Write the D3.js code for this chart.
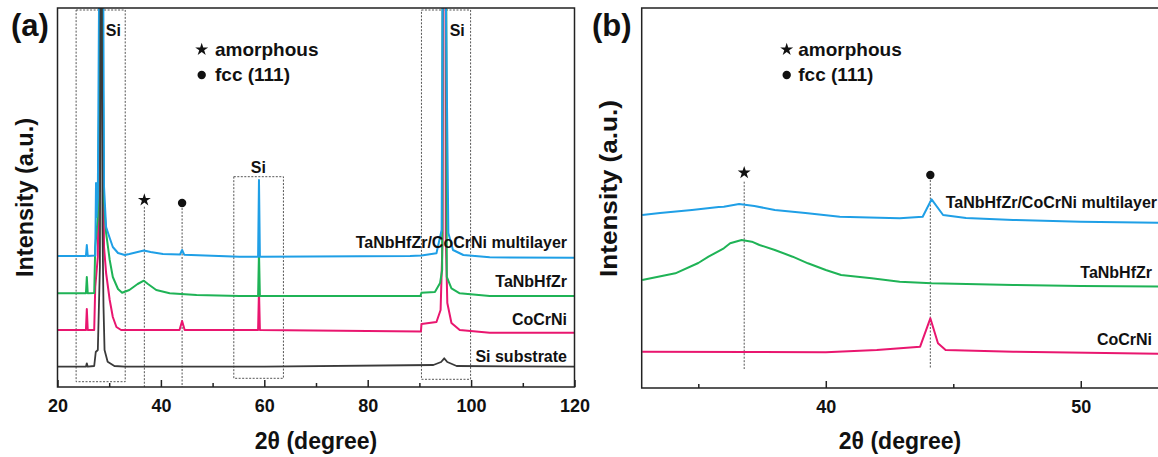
<!DOCTYPE html>
<html>
<head>
<meta charset="utf-8">
<script src="https://cdn.jsdelivr.net/npm/d3@7.9.0/dist/d3.min.js"></script>
<style>
  body { margin: 0; background: #fff; }
  svg { display: block; font-family: "Liberation Sans", Arial, sans-serif; font-weight: bold; }
</style>
</head>
<body>
<svg id="chart" width="1158" height="457"></svg>
<script>
// ---- data: [2theta (deg), intensity (a.u.)] ----
// panel (a), full scan
const multilayerA = [[20,131],[25.5,131],[25.67,142],[25.85,131],[27.3,131.5],[27.45,204],[27.55,170],[27.8,190],
  [28.05,400],[28.45,1500],[28.85,400],[29.0,200],[29.4,160],[30.1,149],[30.7,140],[31.7,134],[33,132],
  [33.9,133],[35.5,135],[36.7,136.5],[38,135],[40.4,133],[43.7,132.5],[44.1,137],[44.5,132.3],[55.2,130.3],
  [58.8,130.3],[58.97,207],[59.15,130.3],[88.2,131],[90.4,131.5],[93.3,133.7],[94.3,157],[94.5,400],[94.8,1500],
  [95.1,400],[95.6,154],[96.5,137],[98.5,132],[103.6,129.7],[120,129.3]];
const tanbhfzrA = [[20,93.7],[25.5,93.7],[25.67,110],[25.85,93.7],[27.1,94],[27.3,140],[27.8,170],[28.15,330],
  [28.45,1500],[28.75,330],[29.0,185],[29.4,154],[30.1,127],[30.7,110],[31.7,98],[32.5,94.3],[33.9,97],
  [35.5,103],[36.7,106.3],[37.5,103],[39.1,97],[41.7,93.7],[46.9,92],[55.2,91],[58.8,91],[58.97,135],
  [59.15,91],[90.2,91],[90.4,94.3],[93,95],[94,104],[94.4,117],[94.8,1500],[95.3,110],[96.2,98.7],
  [97.8,93.7],[103.6,91],[120,91]];
const cocrniA = [[20,57],[25.5,57],[25.67,78],[25.85,57],[27.1,57],[27.3,100],[27.8,130],[28.2,300],
  [28.45,1500],[28.7,300],[29.0,140],[29.4,114],[30.1,87],[30.7,70],[31.4,60],[32.3,57],[40,57],[43.6,57],
  [44.1,66],[44.6,57],[58.8,57],[58.97,97],[59.15,57],[90.3,55.5],[90.4,63],[93.3,65],[94.1,77],[94.5,150],
  [94.8,1500],[95.1,150],[95.4,84],[96.2,64],[97.8,57],[103.6,54.3],[120,54.3]];
const siSubstrateA = [[20,20.3],[25.5,20.3],[25.67,23.7],[25.85,20.3],[27.1,21],[27.4,35],[27.8,37],
  [28.2,120],[28.38,500],[28.45,1500],[28.52,500],[28.7,160],[28.9,80],[29.1,37],[29.7,25.3],[31,21],
  [33,20.3],[60,20.3],[92.7,22],[94.2,25],[94.8,28.7],[95.4,25],[97.2,21],[120,20.3]];

// panel (b), zoom 33-53 deg
const multilayerB = [[32.8,173],[33.5,175],[34.75,178],[35.8,181],[36.0,181.3],[36.6,184],[37.2,182],[38.0,178],
  [39.2,175],[40.55,171.3],[41.7,170.5],[42.9,169.7],[43.8,171.3],[44.15,188.7],[44.6,173],[45.5,170],
  [47.35,168],[50,166.3],[53.5,165]];
const tanbhfzrB = [[32.8,108],[34.1,114.7],[35.0,125],[35.4,131.3],[36.0,139.7],[36.25,144.7],[36.7,148],
  [37.1,146.3],[37.4,143],[38.0,138],[38.7,131.3],[39.3,124.7],[40.0,118],[40.6,113],[41.8,109.7],
  [42.9,106.3],[44.15,104.7],[47.35,103],[50,102],[53.5,101.3]];
const cocrniB = [[32.8,36.3],[36.9,36],[40,35.8],[42,38],[43.7,41.3],[44.1,69.7],[44.4,44.7],[44.7,38],
  [47.35,36.3],[53.5,34]];

const seriesNames = ['TaNbHfZr/CoCrNi multilayer', 'TaNbHfZr', 'CoCrNi', 'Si substrate'];
const seriesColors = ['#1f9fe6', '#1fb356', '#e9166f', '#3a3a3a'];
const ticksMajorA = [20, 40, 60, 80, 100, 120];
const ticksMinorA = [30, 50, 70, 90, 110];
const ticksMajorB = [40, 50];
const ticksMinorB = [35, 45];
const siRegions = [[23.6, 33.1], [54.1, 63.7], [90.4, 99.9]];
const amorphousPos = 36.8;
const fccPos = 44.1;

// ---- layout ----
const svg = d3.select('#chart');
const A = { left: 57.5, right: 574.5, top: 8, bottom: 387 };
const B = { left: 641.7, right: 1170, top: 8, bottom: 388 };

const xA = d3.scaleLinear().domain([20, 120]).range([A.left, A.right]);
const yA = d3.scaleLinear().domain([0, 379]).range([A.bottom, A.top]);
const xB = d3.scaleLinear().domain([32.78, 53.5]).range([B.left, B.right]);
const yB = d3.scaleLinear().domain([0, 380]).range([B.bottom, B.top]);

const defs = svg.append('defs');
defs.append('clipPath').attr('id', 'clipA').append('rect')
  .attr('x', A.left).attr('y', A.top).attr('width', A.right - A.left).attr('height', A.bottom - A.top);
defs.append('clipPath').attr('id', 'clipB').append('rect')
  .attr('x', B.left).attr('y', B.top).attr('width', B.right - B.left).attr('height', B.bottom - B.top);

function drawAxis(x, P, major, minor) {
  svg.append('g').attr('transform', `translate(0,${P.bottom})`)
    .call(d3.axisBottom(x).tickValues(major).tickSizeInner(-7).tickSizeOuter(0).tickPadding(12).tickFormat(d3.format('d')))
    .call(g => g.select('.domain').remove())
    .call(g => g.selectAll('line').attr('stroke', '#222').attr('stroke-width', 1.5))
    .call(g => g.selectAll('text').attr('font-size', 18).attr('font-family', null).attr('fill', '#111'));
  svg.append('g').attr('transform', `translate(0,${P.bottom})`)
    .call(d3.axisBottom(x).tickValues(minor).tickSizeInner(-4).tickSizeOuter(0).tickFormat(''))
    .call(g => g.select('.domain').remove())
    .call(g => g.selectAll('line').attr('stroke', '#222').attr('stroke-width', 1.5));
}

function star(cx, cy) {
  svg.append('path').attr('d', d3.symbol(d3.symbolStar, 52)())
    .attr('transform', `translate(${cx},${cy})`).attr('fill', '#111');
}
function dot(cx, cy) {
  svg.append('circle').attr('cx', cx).attr('cy', cy).attr('r', 4.2).attr('fill', '#111');
}

// ---- panel (a) ----
// dashed Si boxes
const boxTops = [10, 176.7, 10];
const boxBottoms = [381.7, 378.3, 379.3];
siRegions.forEach(([a, b], i) => {
  svg.append('rect')
    .attr('x', xA(a)).attr('y', boxTops[i]).attr('width', xA(b) - xA(a)).attr('height', boxBottoms[i] - boxTops[i])
    .attr('fill', 'none').attr('stroke', '#555').attr('stroke-width', 1).attr('stroke-dasharray', '2,1.5');
});
[[113.3, 36], [258.3, 172.7], [457.2, 36]].forEach(([tx, ty]) => {
  svg.append('text').attr('x', tx).attr('y', ty).attr('text-anchor', 'middle')
    .attr('font-size', 16).attr('fill', '#111').text('Si');
});

// marker guide lines
[[amorphousPos, 206.7], [fccPos, 208]].forEach(([p, top]) => {
  svg.append('line').attr('x1', xA(p)).attr('x2', xA(p)).attr('y1', top).attr('y2', A.bottom)
    .attr('stroke', '#555').attr('stroke-width', 1).attr('stroke-dasharray', '2,1.5');
});
star(xA(amorphousPos), 200);
dot(xA(fccPos), 203);

const lineA = d3.line().x(d => xA(d[0])).y(d => yA(d[1]));
const gA = svg.append('g').attr('clip-path', 'url(#clipA)');
[[cocrniA, 2], [tanbhfzrA, 1], [multilayerA, 0], [siSubstrateA, 3]].forEach(([data, i]) => {
  gA.append('path').datum(data).attr('d', lineA)
    .attr('fill', 'none').attr('stroke', seriesColors[i]).attr('stroke-width', i === 3 ? 1.8 : 2)
    .attr('stroke-linejoin', 'round');
});

const labelYA = [248.3, 286.7, 325, 361.7];
seriesNames.forEach((name, i) => {
  svg.append('text').attr('x', 567).attr('y', labelYA[i]).attr('text-anchor', 'end')
    .attr('font-size', 16).attr('fill', '#111').text(name);
});

svg.append('rect').attr('x', A.left).attr('y', A.top).attr('width', A.right - A.left).attr('height', A.bottom - A.top)
  .attr('fill', 'none').attr('stroke', '#222').attr('stroke-width', 1.5);
drawAxis(xA, A, ticksMajorA, ticksMinorA);

// legend (a)
star(201.7, 49.5);
svg.append('text').attr('x', 215).attr('y', 56).attr('font-size', 19).attr('fill', '#111').text('amorphous');
dot(201.7, 75);
svg.append('text').attr('x', 215).attr('y', 81).attr('font-size', 19).attr('fill', '#111').text('fcc (111)');

svg.append('text').attr('x', 11).attr('y', 36).attr('font-size', 31).attr('fill', '#111').text('(a)');
svg.append('text').attr('transform', 'rotate(-90)').attr('x', -197.5).attr('y', 33)
  .attr('text-anchor', 'middle').attr('font-size', 23).attr('fill', '#111')
  .attr('textLength', 159).attr('lengthAdjust', 'spacingAndGlyphs').text('Intensity (a.u.)');
svg.append('text').attr('x', (A.left + A.right) / 2).attr('y', 449).attr('text-anchor', 'middle')
  .attr('font-size', 23).attr('fill', '#111').text('2θ (degree)');

// ---- panel (b) ----
[[amorphousPos, 181.7], [fccPos, 180]].forEach(([p, top]) => {
  svg.append('line').attr('x1', xB(p)).attr('x2', xB(p)).attr('y1', top).attr('y2', 369)
    .attr('stroke', '#555').attr('stroke-width', 1).attr('stroke-dasharray', '2,1.5');
});
star(xB(amorphousPos), 172.7);
dot(xB(fccPos), 175);

const lineB = d3.line().x(d => xB(d[0])).y(d => yB(d[1]));
const gB = svg.append('g').attr('clip-path', 'url(#clipB)');
[[cocrniB, 2], [tanbhfzrB, 1], [multilayerB, 0]].forEach(([data, i]) => {
  gB.append('path').datum(data).attr('d', lineB)
    .attr('fill', 'none').attr('stroke', seriesColors[i]).attr('stroke-width', 2).attr('stroke-linejoin', 'round');
});

[[1157, 207.5], [1152, 278.3], [1152, 345]].forEach(([tx, ty], i) => {
  svg.append('text').attr('x', tx).attr('y', ty).attr('text-anchor', 'end')
    .attr('font-size', 16).attr('fill', '#111').text(seriesNames[i]);
});

svg.append('path')
  .attr('d', `M${B.right},${B.top}H${B.left}V${B.bottom}H${B.right}`)
  .attr('fill', 'none').attr('stroke', '#222').attr('stroke-width', 1.5);
drawAxis(xB, B, ticksMajorB, ticksMinorB);

star(786.7, 49.5);
svg.append('text').attr('x', 798.3).attr('y', 56).attr('font-size', 19).attr('fill', '#111').text('amorphous');
dot(786.7, 75);
svg.append('text').attr('x', 798.3).attr('y', 81).attr('font-size', 19).attr('fill', '#111').text('fcc (111)');

svg.append('text').attr('x', 592).attr('y', 36).attr('font-size', 31).attr('fill', '#111').text('(b)');
svg.append('text').attr('transform', 'rotate(-90)').attr('x', -188.5).attr('y', 616.7)
  .attr('text-anchor', 'middle').attr('font-size', 23).attr('fill', '#111')
  .attr('textLength', 177).attr('lengthAdjust', 'spacingAndGlyphs').text('Intensity (a.u.)');
svg.append('text').attr('x', 900).attr('y', 449).attr('text-anchor', 'middle')
  .attr('font-size', 23).attr('fill', '#111').text('2θ (degree)');
</script>
</body>
</html>
